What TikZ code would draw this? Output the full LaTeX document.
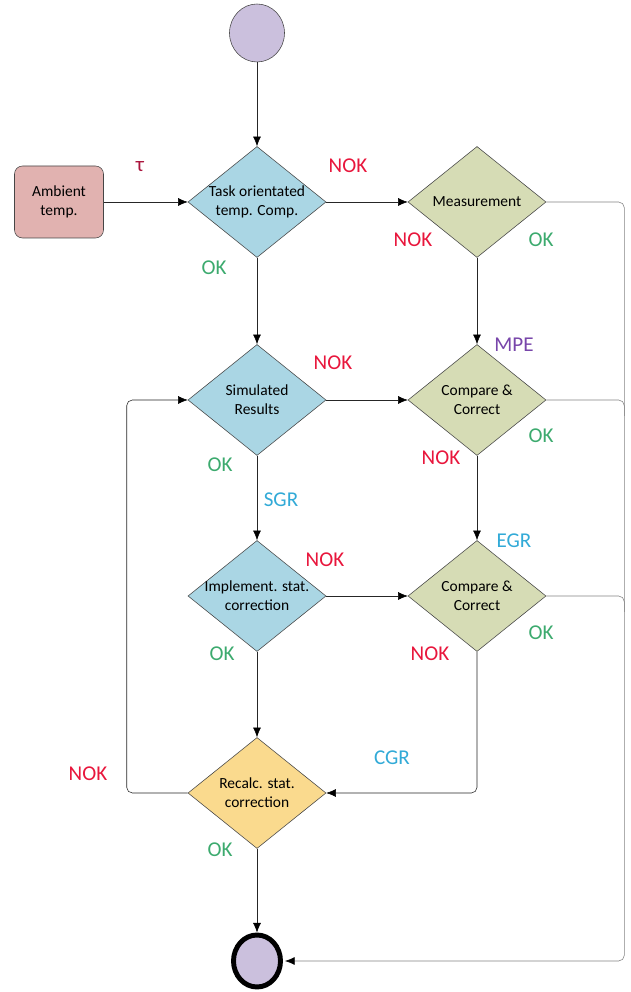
\documentclass[tikz,border=0pt]{standalone}
\usepackage{fontspec}
\setmainfont{Carlito}
\usetikzlibrary{shapes.geometric,arrows.meta}

\definecolor{diablue}{RGB}{170,214,228}
\definecolor{diagreen}{RGB}{214,220,181}
\definecolor{diayellow}{RGB}{250,218,142}
\definecolor{ambpink}{RGB}{225,178,176}
\definecolor{lavender}{RGB}{203,192,221}
\definecolor{bordgray}{RGB}{70,70,70}
\definecolor{linegray}{RGB}{130,130,130}
\definecolor{nokred}{RGB}{232,22,60}
\definecolor{okgreen}{RGB}{60,170,110}
\definecolor{grblue}{RGB}{50,170,215}
\definecolor{mpepurple}{RGB}{120,70,170}
\definecolor{taured}{RGB}{170,20,60}

\tikzset{
	dia/.style={diamond, draw=bordgray, aspect=1.243, minimum width=3.45cm,
		minimum height=2.775cm, inner sep=-4pt, align=center,
		font=\fontsize{11}{13.5}\selectfont},
	ambbox/.style={rectangle, rounded corners=0.2cm, draw=bordgray, fill=ambpink,
		minimum width=2.225cm, minimum height=1.8cm, align=center,
		font=\fontsize{11}{13.5}\selectfont},
	startend/.style={ellipse, draw=bordgray, fill=lavender, inner sep=0pt},
	flow/.style={draw=black!85, -{Latex[length=2.4mm,width=2mm,color=black]}},
	lab/.style={inner sep=0pt, font=\fontsize{15}{17}\selectfont}
}

\begin{document}
\begin{tikzpicture}
	\useasboundingbox (0,0) rectangle (15.775,24.8);

	% start, input and end
	\node[startend, minimum width=1.375cm, minimum height=1.45cm] (start) at (6.425, 23.975) {};
	\node[ambbox] (amb) at (1.475, 19.75) {Ambient\\temp.};
	\node[startend, draw=black, line width=3.5pt, minimum width=1.175cm, minimum height=1.3cm] (finish) at (6.425, 0.775) {};

	% left column
	\node[dia, fill=diablue] (task) at (6.425, 19.75) {Task orientated\\temp. Comp.};
	\node[dia, fill=diablue] (sim) at (6.425, 14.8) {Simulated\\Results};
	\node[dia, fill=diablue] (impl) at (6.425, 9.9) {Implement. stat.\\correction};
	\node[dia, fill=diayellow] (recalc) at (6.425, 4.975) {Recalc. stat.\\correction};

	% right column
	\node[dia, fill=diagreen] (meas) at (11.925, 19.75) {Measurement};
	\node[dia, fill=diagreen] (cc1) at (11.925, 14.8) {Compare \&\\Correct};
	\node[dia, fill=diagreen] (cc2) at (11.925, 9.9) {Compare \&\\Correct};

	% connectors
	\draw[flow] (start) -- (task);
	\draw[flow] (amb) -- (task);
	\draw[flow] (task) -- (meas);
	\draw[flow] (task) -- (sim);
	\draw[flow] (meas) -- (cc1);
	\draw[flow] (sim) -- (cc1);
	\draw[flow] (sim) -- (impl);
	\draw[flow] (cc1) -- (cc2);
	\draw[flow] (impl) -- (cc2);
	\draw[flow] (impl) -- (recalc);
	\draw[flow] (recalc) -- (finish);
	\draw[flow, rounded corners=4pt] (cc2.south) |- (recalc.east);
	\draw[flow, rounded corners=4pt] (recalc.west) -- ++(-1.525,0) |- (sim.west);

	% right return line
	\draw[flow, draw=linegray, rounded corners=4pt, shorten >=1.5pt] (meas.east) -- ++(1.95,0) |- (finish.east);
	\draw[draw=linegray, rounded corners=4pt] (cc1.east) -- ++(1.95,0) -- ++(0,-0.4);
	\draw[draw=linegray, rounded corners=4pt] (cc2.east) -- ++(1.95,0) -- ++(0,-0.4);

	% labels
	\node[lab, text=taured] (tau) at (3.5, 20.625) {τ};
	\node[lab, text=nokred] (nok1) at (8.7, 20.65) {NOK};
	\node[lab, text=nokred] (nok2) at (10.325, 18.8) {NOK};
	\node[lab, text=okgreen] (ok2) at (13.525, 18.8) {OK};
	\node[lab, text=okgreen] (ok1) at (5.35, 18.1) {OK};
	\node[lab, text=mpepurple] (mpe) at (12.85, 16.175) {MPE};
	\node[lab, text=nokred] (nok3) at (8.325, 15.725) {NOK};
	\node[lab, text=okgreen] (ok4) at (13.525, 13.9) {OK};
	\node[lab, text=nokred] (nok4) at (11.025, 13.35) {NOK};
	\node[lab, text=okgreen] (ok3) at (5.5, 13.175) {OK};
	\node[lab, text=grblue] (sgr) at (7.025, 12.3) {SGR};
	\node[lab, text=grblue] (egr) at (12.85, 11.275) {EGR};
	\node[lab, text=nokred] (nok5) at (8.125, 10.8) {NOK};
	\node[lab, text=okgreen] (ok6) at (13.525, 8.975) {OK};
	\node[lab, text=nokred] (nok6) at (10.75, 8.45) {NOK};
	\node[lab, text=okgreen] (ok5) at (5.55, 8.45) {OK};
	\node[lab, text=grblue] (cgr) at (9.8, 5.85) {CGR};
	\node[lab, text=nokred] (nok7) at (2.2, 5.45) {NOK};
	\node[lab, text=okgreen] (ok7) at (5.5, 3.55) {OK};
\end{tikzpicture}
\end{document}
